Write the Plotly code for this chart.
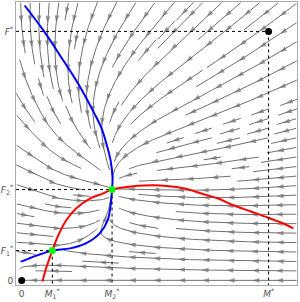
import numpy as np
import plotly.graph_objects as go

# ---- reference levels (normalised so that M* = F* = 1) ----
M_star, F_star = 1.0, 1.0
M1, F1 = 0.124, 0.120
M2, F2 = 0.366, 0.365

# ---- blue curve (M-nullcline) ----
blue_M = [-0.004, 0.008, 0.028, 0.060, 0.124, 0.196, 0.260, 0.316, 0.348, 0.360,
          0.366, 0.368, 0.360, 0.344, 0.324, 0.292, 0.256, 0.216, 0.168, 0.088, 0.012]
blue_F = [0.076, 0.080, 0.088, 0.100, 0.120, 0.129, 0.149, 0.189, 0.241, 0.301,
          0.365, 0.414, 0.482, 0.546, 0.610, 0.675, 0.743, 0.811, 0.884, 1.004, 1.104]

# ---- red curve (F-nullcline) ----
red_M = [0.084, 0.100, 0.124, 0.148, 0.180, 0.220, 0.276, 0.328, 0.366, 0.408,
         0.528, 0.596, 0.660, 0.728, 0.796, 0.860, 0.928, 0.996, 1.060, 1.100]
red_F = [-0.004, 0.052, 0.120, 0.181, 0.241, 0.289, 0.329, 0.349, 0.365, 0.373,
         0.382, 0.378, 0.369, 0.349, 0.329, 0.301, 0.277, 0.253, 0.229, 0.209]

# relaxation rates toward the nullclines
rate_M = 1.0
rate_F = 0.85

# equilibria / marked points
green_M = [M1, M2]
green_F = [F1, F2]
black_M = [0.0, M_star]
black_F = [0.0, F_star]

x_tick_vals = [0, M1, M2, M_star]
x_tick_text = ["0", "<i>M</i><sub>1</sub><sup>*</sup>", "<i>M</i><sub>2</sub><sup>*</sup>", "<i>M</i><sup>*</sup>"]
y_tick_vals = [0, F1, F2, F_star]
y_tick_text = ["0", "<i>F</i><sub>1</sub><sup>*</sup>", "<i>F</i><sub>2</sub><sup>*</sup>", "<i>F</i><sup>*</sup>"]

X_RANGE = (-0.023, 1.115)
Y_RANGE = (-0.018, 1.118)

bM = np.array(blue_M); bF = np.array(blue_F)
rM = np.array(red_M); rF = np.array(red_F)


def field(m, f):
    dm = rate_M * (np.interp(f, bF, bM) - m)
    df = rate_F * max(f, 0.0) * (np.interp(m, rM, rF) - f)
    return dm, df


# ---- evenly spaced streamlines (matplotlib-like algorithm) ----
NX, NY = 30, 30
x0, x1 = X_RANGE
y0, y1 = Y_RANGE
cw = (x1 - x0) / NX
ch = (y1 - y0) / NY
mask = np.zeros((NY, NX), dtype=int)


def cell(x, y):
    return min(int((x - x0) / cw), NX - 1), min(int((y - y0) / ch), NY - 1)


def integrate(xs, ys, sgn, tid, cells):
    pts = [(xs, ys)]
    x, y = xs, ys
    cur = cell(x, y)
    ds = 0.004
    for _ in range(3000):
        u, v = field(x, y)
        s = np.hypot(u, v)
        if s < 0.002:
            break
        xm = x + 0.5 * ds * sgn * u / s
        ym = y + 0.5 * ds * sgn * v / s
        u2, v2 = field(xm, ym)
        s2 = np.hypot(u2, v2)
        if s2 < 0.002:
            break
        xn = x + ds * sgn * u2 / s2
        yn = y + ds * sgn * v2 / s2
        if not (x0 <= xn < x1 and y0 <= yn < y1):
            break
        c = cell(xn, yn)
        if c != cur:
            if mask[c[1], c[0]] != 0:
                break
            mask[c[1], c[0]] = tid
            cells.append(c)
            cur = c
        x, y = xn, yn
        pts.append((x, y))
    return pts


def spiral(nx, ny):
    xfirst, yfirst = 0, 1
    xlast, ylast = nx - 1, ny - 1
    x, y = 0, 0
    d = 'right'
    for _ in range(nx * ny):
        yield x, y
        if d == 'right':
            x += 1
            if x >= xlast:
                xlast -= 1
                d = 'up'
        elif d == 'up':
            y += 1
            if y >= ylast:
                ylast -= 1
                d = 'left'
        elif d == 'left':
            x -= 1
            if x <= xfirst:
                xfirst += 1
                d = 'down'
        else:
            y -= 1
            if y <= yfirst:
                yfirst += 1
                d = 'right'


trajs = []
tid = 0
for cx, cy in spiral(NX, NY):
    if mask[cy, cx] != 0:
        continue
    tid += 1
    xs = x0 + (cx + 0.5) * cw
    ys = y0 + (cy + 0.5) * ch
    mask[cy, cx] = tid
    cells = [(cx, cy)]
    back = integrate(xs, ys, -1, tid, cells)
    fwd = integrate(xs, ys, 1, tid, cells)
    pts = back[::-1] + fwd[1:]
    arr = np.array(pts)
    if len(arr) < 2:
        length = 0
    else:
        length = np.sum(np.hypot(*np.diff(arr, axis=0).T))
    if length < 0.07:
        for c in cells:
            mask[c[1], c[0]] = 0
        continue
    trajs.append(arr)

# line coordinates and arrowheads
line_x, line_y = [], []
arr_x, arr_y, arr_s = [], [], []
spacing = 0.1
for arr in trajs:
    line_x += list(arr[:, 0]) + [None]
    line_y += list(arr[:, 1]) + [None]
    seg = np.hypot(*np.diff(arr, axis=0).T)
    cum = np.concatenate([[0], np.cumsum(seg)])
    L = cum[-1]
    if L < spacing * 1.2:
        targets = [0.65 * L]
    else:
        targets = list(np.arange(spacing * 0.8, L - 0.01, spacing))
    for t in targets:
        i = int(np.searchsorted(cum, t))
        i = max(3, min(i, len(arr) - 1))
        arr_x += [arr[i - 3, 0], arr[i, 0]]
        arr_y += [arr[i - 3, 1], arr[i, 1]]
        arr_s += [0, 7.5]

GRAY = "#707070"
fig = go.Figure()
fig.add_trace(go.Scatter(x=line_x, y=line_y, mode="lines",
                         line=dict(color=GRAY, width=1), hoverinfo="skip"))
fig.add_trace(go.Scatter(x=arr_x, y=arr_y, mode="markers",
                         marker=dict(symbol="arrow", size=arr_s, color=GRAY,
                                     angleref="previous", line=dict(width=0)),
                         hoverinfo="skip"))

# nullclines
fig.add_trace(go.Scatter(x=blue_M, y=blue_F, mode="lines", line=dict(color="#0000ff", width=2, shape="spline", smoothing=1)))
fig.add_trace(go.Scatter(x=red_M, y=red_F, mode="lines", line=dict(color="#ff0000", width=2, shape="spline", smoothing=1)))

# dotted guide lines
for mv, fv in zip([M1, M2, M_star], [F1, F2, F_star]):
    fig.add_trace(go.Scatter(x=[X_RANGE[0], mv], y=[fv, fv], mode="lines",
                             line=dict(color="black", width=1, dash="dot")))
    fig.add_trace(go.Scatter(x=[mv, mv], y=[fv, Y_RANGE[0]], mode="lines",
                             line=dict(color="black", width=1, dash="dot")))

fig.add_trace(go.Scatter(x=green_M, y=green_F, mode="markers",
                         marker=dict(color="#00ff00", size=7)))
fig.add_trace(go.Scatter(x=black_M, y=black_F, mode="markers",
                         marker=dict(color="black", size=7)))

axis_common = dict(showgrid=False, zeroline=False, showline=True, mirror=True,
                   linecolor="#aaaaaa", linewidth=1, ticks="",
                   tickfont=dict(family="DejaVu Sans", size=9, color="#555555"))
fig.update_layout(
    width=300, height=302,
    margin=dict(l=12, r=3, t=1, b=17),
    paper_bgcolor="white", plot_bgcolor="white",
    showlegend=False,
    xaxis=dict(range=list(X_RANGE), tickvals=x_tick_vals, ticktext=x_tick_text, **axis_common),
    yaxis=dict(range=list(Y_RANGE), tickvals=y_tick_vals, ticktext=y_tick_text, **axis_common),
)
fig.write_html("out.html", config={"displayModeBar": False},
               post_script="document.body.style.margin='0';document.body.style.padding='0';document.body.style.overflow='hidden';")
